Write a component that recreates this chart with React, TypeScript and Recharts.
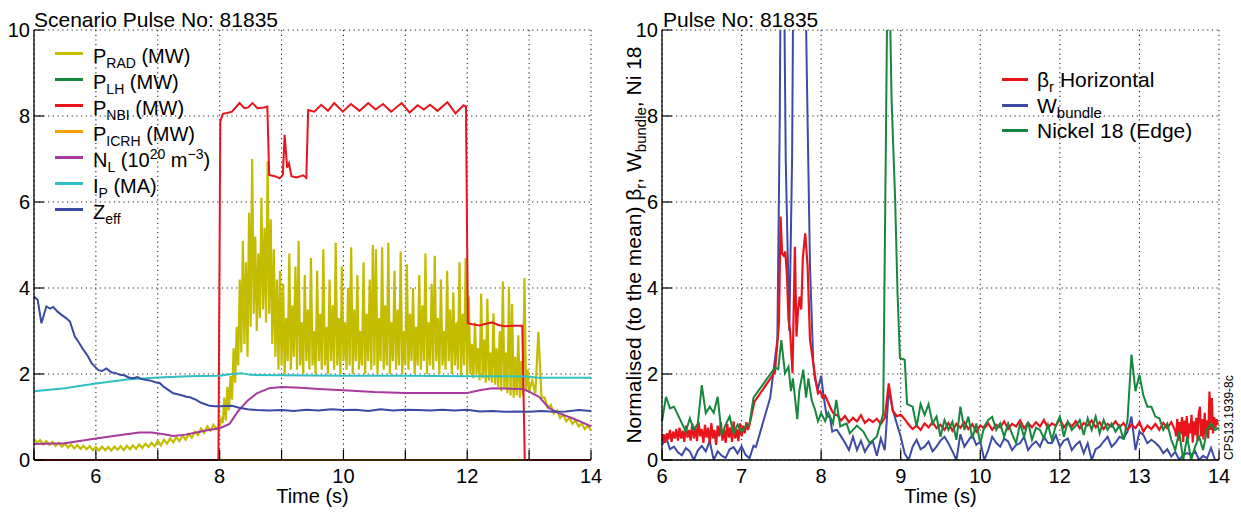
import React from 'react';
import { LineChart, Line, XAxis, YAxis, CartesianGrid } from 'recharts';

const FONT = '"Liberation Sans", Arial, Helvetica, sans-serif';

type Pt = { t: number; v: number };

// data helpers: explicit (t, v) pairs, or a uniformly sampled block starting at t0
const fromPairs = (rows: number[][]): Pt[] => rows.map(([t, v]) => ({ t, v }));
const fromSamples = (t0: number, dt: number, values: number[]): Pt[] =>
  values.map((v, i) => ({ t: Math.round((t0 + i * dt) * 1000) / 1000, v }));

const COLORS = {
  prad: '#c4bc00',
  lh: '#12893c',
  nbi: '#e8141c',
  icrh: '#f5a000',
  nl: '#a83a9e',
  ip: '#2fc0c6',
  zeff: '#3b4aa0',
  beta: '#e8141c',
  bundle: '#3d4ba3',
  nickel: '#17873d',
};

// ---------- axes ----------
const leftXTicks = [5, 6, 7, 8, 9, 10, 11, 12, 13, 14];
const leftXLabels = ['', '6', '', '8', '', '10', '', '12', '', '14'];
const rightXTicks = [6, 7, 8, 9, 10, 11, 12, 13];
const rightXLabels = ['6', '7', '8', '9', '10', '12', '13', '14'];
const yTicks = [0, 2, 4, 6, 8, 10];
const yLabels = ['0', '2', '4', '6', '8', '10'];

// ---------- left panel ----------
// P_RAD 5.00 - 7.95 s, every 0.05 s
const pradStart = [
  0.48, 0.40, 0.46, 0.36, 0.44, 0.35, 0.42, 0.33, 0.40, 0.31,
  0.38, 0.29, 0.36, 0.27, 0.35, 0.26, 0.33, 0.25, 0.32, 0.23,
  0.30, 0.22, 0.31, 0.23, 0.30, 0.22, 0.31, 0.24, 0.32, 0.23,
  0.33, 0.25, 0.34, 0.26, 0.36, 0.28, 0.38, 0.30, 0.40, 0.32,
  0.44, 0.34, 0.47, 0.38, 0.50, 0.41, 0.53, 0.44, 0.57, 0.47,
  0.60, 0.52, 0.66, 0.58, 0.73, 0.63, 0.78, 0.68, 0.82, 0.72,
];
// P_RAD 8.000 - 13.000 s, every 0.025 s
const pradFlat = [
  0.80, 0.95, 0.86, 1.45, 0.92, 1.70, 1.15, 1.95, 1.40, 2.60,
  1.80, 3.10, 2.20, 4.20, 2.50, 5.10, 2.70, 4.60, 2.40, 5.75,
  3.10, 7.00, 3.40, 5.20, 3.00, 4.80, 3.30, 6.10, 3.50, 5.40,
  3.20, 6.95, 3.40, 5.60, 2.70, 4.90, 2.40, 4.20, 2.10, 4.40,
  2.20, 4.10, 2.00, 3.30, 2.30, 4.80, 2.10, 3.60, 2.40, 4.50,
  2.10, 5.10, 2.20, 3.20, 2.00, 4.30, 2.30, 3.50, 2.10, 4.70,
  2.20, 3.00, 2.00, 4.40, 2.30, 3.40, 2.10, 4.90, 2.20, 3.10,
  2.00, 4.20, 2.30, 3.60, 2.10, 5.05, 2.20, 3.30, 2.00, 4.50,
  2.30, 3.20, 2.10, 4.00, 2.20, 4.95, 2.00, 3.50, 2.30, 4.30,
  2.10, 3.00, 2.20, 4.60, 2.00, 3.40, 2.30, 4.20, 2.10, 5.00,
  2.20, 4.90, 2.00, 3.30, 2.30, 4.95, 2.10, 3.60, 2.20, 5.05,
  2.00, 3.20, 2.30, 4.40, 2.10, 3.50, 2.20, 4.85, 2.00, 3.00,
  2.20, 4.55, 2.10, 3.40, 2.30, 4.00, 2.00, 3.10, 2.20, 4.30,
  2.10, 3.60, 2.30, 4.80, 2.00, 3.20, 2.20, 4.10, 2.10, 4.75,
  2.30, 3.30, 2.00, 4.20, 2.20, 3.00, 2.10, 4.40, 2.30, 3.50,
  2.00, 3.90, 2.20, 3.20, 2.10, 4.60, 1.95, 3.40, 2.20, 4.70,
  1.95, 3.80, 2.00, 2.70, 1.90, 3.20, 2.00, 2.60, 1.85, 3.87,
  1.90, 2.80, 1.80, 3.75, 1.85, 2.50, 1.80, 3.41, 1.75, 2.60,
  1.70, 3.00, 1.60, 4.15, 1.65, 2.50, 1.55, 4.03, 1.50, 3.63,
  1.45, 2.40, 1.50, 2.90, 1.45, 2.30, 1.50, 4.23, 1.60, 2.10,
  1.60,
];
// P_RAD 13.05 - 14.00 s, every 0.05 s
const pradTail = [
  1.85, 1.55, 2.98, 1.45, 1.45, 1.22, 1.28, 1.08, 1.15, 0.98,
  1.06, 0.90, 0.98, 0.84, 0.92, 0.78, 0.85, 0.72, 0.80, 0.68,
];

const nbiPoints = [
  [5.0, 0], [7.98, 0], [8.01, 7.87], [8.05, 8.05], [8.12, 8.07], [8.2, 8.1],
  [8.32, 8.3], [8.4, 8.18], [8.46, 8.2], [8.53, 8.3], [8.61, 8.18], [8.72, 8.2],
  [8.77, 8.22], [8.8, 6.63], [8.89, 6.6], [8.97, 6.55], [9.02, 6.63], [9.05, 7.56],
  [9.09, 6.8], [9.12, 6.9], [9.16, 6.6], [9.24, 6.57], [9.35, 6.62], [9.4, 6.56],
  [9.43, 8.14], [9.53, 8.1], [9.64, 8.26], [9.75, 8.12], [9.85, 8.3], [9.99, 8.1],
  [10.12, 8.28], [10.26, 8.12], [10.4, 8.3], [10.52, 8.15], [10.64, 8.28], [10.77, 8.1],
  [10.94, 8.3], [11.07, 8.08], [11.2, 8.25], [11.3, 8.15], [11.4, 8.26], [11.52, 8.12],
  [11.68, 8.32], [11.81, 8.06], [11.94, 8.25], [11.98, 8.22], [12.01, 3.18], [12.1, 3.15],
  [12.2, 3.13], [12.3, 3.17], [12.41, 3.2], [12.5, 3.14], [12.6, 3.11], [12.75, 3.12],
  [12.89, 3.12], [12.93, 0], [14.0, 0],
];
const lhPoints = [[5.0, 0], [14.0, 0]];
const icrhPoints = [[5.0, 0], [14.0, 0]];
const nlPoints = [
  [5.0, 0.37], [5.5, 0.39], [6.0, 0.5], [6.4, 0.58], [6.7, 0.64], [6.9, 0.64],
  [7.1, 0.6], [7.25, 0.56], [7.45, 0.59], [7.62, 0.64], [7.8, 0.69], [8.0, 0.74],
  [8.16, 0.84], [8.3, 1.14], [8.45, 1.38], [8.6, 1.55], [8.8, 1.67], [9.0, 1.7],
  [9.3, 1.68], [9.6, 1.65], [10.0, 1.62], [10.5, 1.58], [11.0, 1.56], [11.5, 1.56],
  [12.0, 1.56], [12.2, 1.62], [12.4, 1.67], [12.6, 1.66], [12.9, 1.65], [13.0, 1.59],
  [13.16, 1.47], [13.32, 1.21], [13.48, 1.09], [13.7, 0.97], [13.85, 0.88], [14.0, 0.78],
];
const ipPoints = [
  [5.0, 1.6], [5.5, 1.67], [6.0, 1.78], [6.5, 1.87], [7.0, 1.92], [7.5, 1.95],
  [8.0, 1.96], [8.2, 2.0], [8.35, 2.02], [8.5, 1.98], [9.0, 1.97], [10.0, 1.96],
  [11.0, 1.96], [12.0, 1.95], [12.5, 1.95], [13.0, 1.94], [13.15, 1.91], [14.0, 1.91],
];
const zeffPoints = [
  [5.0, 3.8], [5.06, 3.72], [5.12, 3.18], [5.2, 3.57], [5.26, 3.52], [5.31, 3.56],
  [5.38, 3.45], [5.45, 3.37], [5.52, 3.3], [5.58, 3.22], [5.66, 2.87], [5.73, 2.72],
  [5.8, 2.56], [5.87, 2.42], [5.93, 2.25], [6.04, 2.09], [6.1, 2.07], [6.17, 2.13],
  [6.25, 2.04], [6.32, 2.02], [6.39, 1.98], [6.46, 1.97], [6.53, 1.92], [6.6, 1.9],
  [6.67, 1.93], [6.74, 1.88], [6.82, 1.86], [6.9, 1.84], [6.96, 1.81], [7.03, 1.79],
  [7.1, 1.7], [7.18, 1.62], [7.25, 1.55], [7.32, 1.53], [7.4, 1.5], [7.46, 1.47],
  [7.52, 1.46], [7.62, 1.4], [7.7, 1.33], [7.78, 1.29], [7.84, 1.26], [7.92, 1.25],
  [8.0, 1.25], [8.2, 1.26], [8.3, 1.22], [8.45, 1.18], [8.6, 1.16], [8.8, 1.15],
  [9.0, 1.16], [9.2, 1.14], [9.4, 1.17], [9.6, 1.15], [9.8, 1.18], [10.0, 1.16],
  [10.2, 1.17], [10.4, 1.14], [10.6, 1.18], [10.8, 1.15], [11.0, 1.17], [11.2, 1.16],
  [11.4, 1.15], [11.6, 1.17], [11.8, 1.15], [12.0, 1.17], [12.2, 1.13], [12.4, 1.14],
  [12.6, 1.12], [12.8, 1.13], [13.0, 1.12], [13.2, 1.14], [13.4, 1.12], [13.6, 1.13],
  [13.8, 1.16], [14.0, 1.14],
];

// ---------- right panel (x in axis positions 6..13) ----------
// beta_r 6.00 - 7.10, every 0.02
const betaNoise = [
  0.45, 0.60, 0.40, 0.62, 0.48, 0.70, 0.42, 0.66, 0.50, 0.72,
  0.45, 0.75, 0.50, 0.68, 0.42, 0.80, 0.52, 0.70, 0.45, 0.85,
  0.50, 0.78, 0.44, 0.88, 0.55, 0.72, 0.40, 0.82, 0.52, 0.75,
  0.38, 0.86, 0.50, 0.70, 0.35, 0.80, 0.55, 0.88, 0.45, 0.72,
  0.40, 0.84, 0.52, 0.76, 0.42, 0.90, 0.50, 0.72, 0.44, 0.85,
  0.55, 0.80, 0.62, 0.88, 0.70, 0.82,
];
const betaCrash = [
  [7.16, 1.35], [7.42, 2.05], [7.47, 3.2], [7.49, 5.66], [7.51, 4.8], [7.53, 4.75],
  [7.55, 4.85], [7.57, 4.3], [7.59, 3.26], [7.61, 3.0], [7.64, 2.02], [7.67, 4.96],
  [7.69, 2.87], [7.71, 3.5], [7.73, 3.8], [7.75, 3.5], [7.77, 4.7], [7.8, 5.27],
  [7.83, 4.5], [7.86, 2.8], [7.89, 2.4], [7.92, 2.0], [7.94, 1.75], [7.96, 1.55],
  [7.99, 1.6], [8.02, 1.45], [8.05, 1.5], [8.09, 1.33], [8.12, 1.2], [8.15, 1.1],
  [8.18, 1.05],
];
// beta_r 8.20 - 12.45, every 0.05
const betaFlat = [
  1.05, 0.92, 1.02, 0.88, 0.98, 0.90, 1.04, 0.86, 0.95, 0.88,
  0.96, 0.84, 0.98, 1.78, 1.15, 1.02, 1.05, 0.95, 0.82, 0.72,
  0.80, 0.70, 0.85, 0.76, 0.88, 0.74, 0.82, 0.70, 0.86, 0.68,
  0.84, 0.75, 0.88, 0.72, 0.83, 0.66, 0.80, 0.74, 0.85, 0.70,
  0.82, 0.76, 0.90, 0.72, 0.84, 0.78, 0.92, 0.74, 0.86, 0.76,
  0.88, 0.78, 0.93, 0.75, 0.85, 0.80, 0.95, 0.76, 0.88, 0.78,
  0.90, 0.74, 0.86, 0.80, 0.92, 0.76, 0.88, 0.72, 0.84, 0.78,
  0.90, 0.76, 0.86, 0.70, 0.82, 0.74, 0.88, 0.66, 0.80, 0.72,
  0.84, 0.70, 0.86, 0.74, 0.88, 0.68,
];
// beta_r 12.46 - 12.985, every 0.015
const betaEnd = [
  0.55, 0.95, 0.45, 0.88, 0.60, 1.00, 0.42, 0.92, 0.55, 1.02,
  0.48, 0.85, 0.62, 1.05, 0.40, 0.90, 0.58, 0.98, 0.45, 1.08,
  1.24, 0.55, 0.95, 0.48, 1.10, 0.60, 0.92, 0.50, 1.59, 0.70,
  1.44, 0.62, 1.00, 0.75, 0.95, 0.82,
];

// W_bundle 6.00 - 7.15, every 0.05
const bundleStart = [
  0.35, 0.54, 0.25, 0.31, 0.18, 0.11, 0.28, 0.20, 0.00, 0.22,
  0.33, 0.20, 0.44, 0.00, 0.20, 0.10, 0.05, 0.25, 0.30, 0.15,
  0.32, 0.12, 0.04, 0.33,
];
const bundleCrash = [
  [7.18, 0.3], [7.36, 1.45], [7.45, 2.8], [7.48, 8], [7.5, 14], [7.52, 14],
  [7.555, 7], [7.6, 3.0], [7.635, 7], [7.66, 14], [7.78, 14], [7.82, 9],
  [7.86, 4.5], [7.9, 2.3], [7.92, 1.9], [7.96, 1.65], [8.0, 1.96], [8.03, 1.5],
  [8.07, 1.0], [8.11, 1.01], [8.14, 0.66], [8.18, 0.7],
];
// W_bundle 8.20 - 13.00, every 0.05
const bundleFlat = [
  0.70, 0.55, 0.40, 0.23, 0.54, 0.23, 0.45, 0.19, 0.35, 0.43,
  0.10, 0.50, 0.23, 1.63, 1.16, 0.85, 0.54, 0.15, 0.00, 0.31,
  0.47, 0.25, 0.31, 0.43, 0.20, 0.31, 0.45, 0.54, 0.39, 0.20,
  0.00, 0.60, 0.31, 0.45, 0.58, 0.35, 0.43, 0.00, 0.23, 0.54,
  0.40, 0.31, 0.50, 0.43, 0.23, 0.35, 0.39, 0.54, 0.23, 0.35,
  0.43, 0.31, 0.54, 0.40, 0.39, 0.58, 0.31, 0.45, 0.50, 0.23,
  0.35, 0.43, 0.16, 0.39, 0.00, 0.25, 0.31, 0.43, 0.54, 0.31,
  0.40, 0.54, 0.50, 0.66, 1.01, 0.23, 0.66, 0.58, 0.39, 0.47,
  0.40, 0.31, 0.16, 0.25, 0.08, 0.19, 0.00, 0.12, 0.16, 0.12,
  0.20, 0.00, 0.10, 0.04, 0.28, 0.00, 0.00,
];

// Nickel 18 6.00 - 7.10, every 0.05
const nickelStart = [
  0.90, 1.47, 1.20, 1.24, 1.05, 0.85, 0.66, 0.97, 0.70, 0.85,
  1.74, 1.09, 1.24, 1.10, 1.47, 0.58, 0.82, 1.01, 0.62, 0.82,
  0.66, 0.78, 0.85,
];
const nickelCrash = [
  [7.15, 1.45], [7.42, 2.15], [7.46, 2.11], [7.5, 2.79], [7.545, 2.02], [7.59, 2.17],
  [7.62, 1.6], [7.645, 1.9], [7.7, 0.95], [7.725, 1.6], [7.775, 2.1], [7.81, 1.45],
  [7.84, 1.9], [7.88, 1.4], [7.92, 1.19], [7.96, 0.9], [8.0, 1.09], [8.05, 0.9],
  [8.09, 1.1], [8.15, 0.85], [8.19, 1.4], [8.24, 0.78], [8.32, 0.85], [8.36, 0.62],
  [8.45, 0.8], [8.53, 0.66], [8.61, 0.39], [8.7, 0.55], [8.78, 1.08], [8.83, 10.5],
  [8.865, 10.5], [8.885, 8.4], [8.93, 6.05], [8.96, 3.88], [8.99, 2.37], [9.05, 2.33],
  [9.08, 1.3],
];
// Nickel 18 9.15 - 13.00, every 0.05
const nickelFlat = [
  1.24, 0.78, 1.30, 1.05, 1.30, 0.85, 1.01, 0.54, 0.93, 0.70,
  0.89, 0.47, 1.24, 0.70, 1.01, 0.50, 0.85, 0.39, 0.78, 0.93,
  1.00, 0.70, 0.85, 0.54, 0.85, 0.60, 0.39, 0.85, 0.54, 0.89,
  0.47, 0.75, 0.70, 0.50, 0.82, 0.47, 0.80, 1.01, 0.54, 0.89,
  0.70, 0.80, 0.93, 0.58, 0.97, 0.70, 1.01, 0.62, 0.93, 0.70,
  0.85, 0.66, 0.80, 0.47, 0.93, 2.45, 1.60, 1.98, 1.50, 1.24,
  1.24, 1.01, 0.97, 0.70, 0.85, 0.47, 0.23, 0.66, 0.00, 0.54,
  0.00, 0.31, 0.54, 0.23, 0.70, 0.85, 0.70, 0.75,
];

const pradData = [
  ...fromSamples(5.0, 0.05, pradStart),
  ...fromSamples(8.0, 0.025, pradFlat),
  ...fromSamples(13.05, 0.05, pradTail),
];
const betaData = [
  ...fromSamples(6.0, 0.02, betaNoise),
  ...fromPairs(betaCrash),
  ...fromSamples(8.2, 0.05, betaFlat),
  ...fromSamples(12.46, 0.015, betaEnd),
];
const bundleData = [
  ...fromSamples(6.0, 0.05, bundleStart),
  ...fromPairs(bundleCrash),
  ...fromSamples(8.2, 0.05, bundleFlat),
];
const nickelData = [
  ...fromSamples(6.0, 0.05, nickelStart),
  ...fromPairs(nickelCrash),
  ...fromSamples(9.15, 0.05, nickelFlat),
];

// ---------- ticks: drawn inward, labels outside ----------
const makeBottomTick = (ticks: number[], labels: string[]) => (props: any) => {
  const { x, y, payload } = props;
  const label = labels[ticks.indexOf(payload.value)];
  return (
    <g>
      <line x1={x} y1={y} x2={x} y2={y - 10} stroke="#000" strokeWidth={1.2} />
      {label ? (
        <text x={x} y={y + 23} textAnchor="middle" fontSize={20} fontFamily={FONT} fill="#000">
          {label}
        </text>
      ) : null}
    </g>
  );
};

const makeLeftTick = (ticks: number[], labels: string[]) => (props: any) => {
  const { x, y, payload } = props;
  const label = labels[ticks.indexOf(payload.value)];
  return (
    <g>
      <line x1={x} y1={y} x2={x + 10} y2={y} stroke="#000" strokeWidth={1.2} />
      <text x={x - 4} y={y + 7} textAnchor="end" fontSize={20} fontFamily={FONT} fill="#000">
        {label}
      </text>
    </g>
  );
};

const Sub = ({ children, size = 14 }: { children: React.ReactNode; size?: number }) => (
  <span style={{ fontSize: size, position: 'relative', top: 5 }}>{children}</span>
);
const Sup = ({ children }: { children: React.ReactNode }) => (
  <span style={{ fontSize: 14, position: 'relative', top: -8 }}>{children}</span>
);

const leftLegend = [
  { color: COLORS.prad, label: <>P<Sub>RAD</Sub> (MW)</> },
  { color: COLORS.lh, label: <>P<Sub>LH</Sub> (MW)</> },
  { color: COLORS.nbi, label: <>P<Sub>NBI</Sub> (MW)</> },
  { color: COLORS.icrh, label: <>P<Sub>ICRH</Sub> (MW)</> },
  { color: COLORS.nl, label: <>N<Sub>L</Sub> (10<Sup>20</Sup> m<Sup>−3</Sup>)</> },
  { color: COLORS.ip, label: <>I<Sub>P</Sub> (MA)</> },
  { color: COLORS.zeff, label: <>Z<Sub>eff</Sub></> },
];

const rightLegend = [
  { color: COLORS.beta, label: <>β<Sub size={15}>r</Sub> Horizontal</> },
  { color: COLORS.bundle, label: <>W<Sub size={15}>bundle</Sub></> },
  { color: COLORS.nickel, label: <>Nickel 18 (Edge)</> },
];

function LegendBlock({ items, left, top, rowH, fontSize, lineH, swatchW, gap }: any) {
  return (
    <div style={{ position: 'absolute', left, top }}>
      {items.map((it: any, i: number) => (
        <div key={i} style={{ position: 'relative', height: rowH, whiteSpace: 'nowrap' }}>
          <div style={{ position: 'absolute', left: 0, top: rowH / 2 - 1.5, width: swatchW, height: 3, background: it.color }} />
          <div style={{ position: 'absolute', left: swatchW + gap, top: 0, fontSize, lineHeight: `${lineH}px` }}>{it.label}</div>
        </div>
      ))}
    </div>
  );
}

function RightYLabel() {
  const cx = 41;
  const cy = 245;
  return (
    <text x={cx} y={cy} transform={`rotate(-90 ${cx} ${cy})`} textAnchor="middle" fontSize={21} fontFamily={FONT} fill="#000">
      Normalised (to the mean) β<tspan fontSize={15} dy={5}>r</tspan>
      <tspan dy={-5}>, W</tspan>
      <tspan fontSize={15} dy={5}>bundle</tspan>
      <tspan dy={-5}>, Ni 18</tspan>
    </text>
  );
}

const axisStroke = { stroke: '#000', strokeWidth: 1.3 };

export default function App() {
  return (
    <div style={{ position: 'absolute', left: 0, top: 0, width: 1241, height: 515, background: '#fff', fontFamily: FONT, color: '#000' }}>
      {/* Scenario panel */}
      <div style={{ position: 'absolute', left: 0, top: 0 }}>
        <LineChart width={620} height={515} margin={{ top: 30, right: 29, bottom: 0, left: 4 }}>
          <CartesianGrid stroke="#222" strokeDasharray="1.2 3.5" strokeWidth={1.1} />
          <XAxis
            dataKey="t"
            type="number"
            domain={[5, 14]}
            ticks={leftXTicks}
            interval={0}
            height={55}
            tickSize={0}
            tickMargin={0}
            tickLine={false}
            axisLine={axisStroke}
            tick={makeBottomTick(leftXTicks, leftXLabels)}
            label={{ value: 'Time (s)', position: 'insideBottom', offset: 12, fontSize: 20, fill: '#000', fontFamily: FONT }}
          />
          <XAxis xAxisId="top" orientation="top" type="number" domain={[5, 14]} height={0} tick={false} tickLine={false} axisLine={axisStroke} />
          <YAxis
            type="number"
            domain={[0, 10]}
            ticks={yTicks}
            interval={0}
            width={30}
            tickSize={0}
            tickMargin={0}
            tickLine={false}
            axisLine={axisStroke}
            tick={makeLeftTick(yTicks, yLabels)}
          />
          <YAxis yAxisId="right" orientation="right" type="number" domain={[0, 10]} width={0} tick={false} tickLine={false} axisLine={axisStroke} />
          <Line data={pradData} dataKey="v" stroke={COLORS.prad} strokeWidth={2.2} strokeLinejoin="miter" dot={false} activeDot={false} isAnimationActive={false} />
          <Line data={fromPairs(lhPoints)} dataKey="v" stroke={COLORS.lh} strokeWidth={2} dot={false} activeDot={false} isAnimationActive={false} />
          <Line data={fromPairs(icrhPoints)} dataKey="v" stroke={COLORS.icrh} strokeWidth={2} dot={false} activeDot={false} isAnimationActive={false} />
          <Line data={fromPairs(nbiPoints)} dataKey="v" stroke={COLORS.nbi} strokeWidth={2} dot={false} activeDot={false} isAnimationActive={false} />
          <Line data={fromPairs(nlPoints)} dataKey="v" stroke={COLORS.nl} strokeWidth={2} dot={false} activeDot={false} isAnimationActive={false} />
          <Line data={fromPairs(ipPoints)} dataKey="v" stroke={COLORS.ip} strokeWidth={2} dot={false} activeDot={false} isAnimationActive={false} />
          <Line data={fromPairs(zeffPoints)} dataKey="v" stroke={COLORS.zeff} strokeWidth={2} dot={false} activeDot={false} isAnimationActive={false} />
        </LineChart>
      </div>

      {/* Normalised signals panel */}
      <div style={{ position: 'absolute', left: 600, top: 0 }}>
        <LineChart width={641} height={515} margin={{ top: 30, right: 22, bottom: 0, left: 2 }}>
          <CartesianGrid stroke="#222" strokeDasharray="1.2 3.5" strokeWidth={1.1} />
          <XAxis
            dataKey="t"
            type="number"
            domain={[6, 13]}
            ticks={rightXTicks}
            interval={0}
            height={55}
            tickSize={0}
            tickMargin={0}
            tickLine={false}
            axisLine={axisStroke}
            tick={makeBottomTick(rightXTicks, rightXLabels)}
            label={{ value: 'Time (s)', position: 'insideBottom', offset: 12, fontSize: 20, fill: '#000', fontFamily: FONT }}
          />
          <XAxis xAxisId="top" orientation="top" type="number" domain={[6, 13]} height={0} tick={false} tickLine={false} axisLine={axisStroke} />
          <YAxis
            type="number"
            domain={[0, 10]}
            allowDataOverflow
            ticks={yTicks}
            interval={0}
            width={60}
            tickSize={0}
            tickMargin={0}
            tickLine={false}
            axisLine={axisStroke}
            tick={makeLeftTick(yTicks, yLabels)}
            label={<RightYLabel />}
          />
          <YAxis yAxisId="right" orientation="right" type="number" domain={[0, 10]} width={0} tick={false} tickLine={false} axisLine={{ stroke: '#555', strokeWidth: 2 }} />
          <Line data={bundleData} dataKey="v" stroke={COLORS.bundle} strokeWidth={2} dot={false} activeDot={false} isAnimationActive={false} />
          <Line data={betaData} dataKey="v" stroke={COLORS.beta} strokeWidth={2.2} dot={false} activeDot={false} isAnimationActive={false} />
          <Line data={nickelData} dataKey="v" stroke={COLORS.nickel} strokeWidth={2} dot={false} activeDot={false} isAnimationActive={false} />
        </LineChart>
      </div>

      {/* titles */}
      <div style={{ position: 'absolute', left: 34, top: 9, fontSize: 21, lineHeight: '21px', whiteSpace: 'nowrap' }}>
        Scenario Pulse No: 81835
      </div>
      <div style={{ position: 'absolute', left: 663, top: 9, fontSize: 21, lineHeight: '21px', whiteSpace: 'nowrap' }}>
        Pulse No: 81835
      </div>

      <LegendBlock items={leftLegend} left={55} top={40} rowH={26} fontSize={20} lineH={32} swatchW={28} gap={10} />
      <LegendBlock items={rightLegend} left={1002} top={67} rowH={25.5} fontSize={21} lineH={26} swatchW={26} gap={9} />

      <div
        style={{
          position: 'absolute',
          left: 1223,
          top: 460,
          fontSize: 12,
          lineHeight: '12px',
          whiteSpace: 'nowrap',
          transform: 'rotate(-90deg)',
          transformOrigin: 'left top',
        }}
      >
        CPS13.1939-8c
      </div>
    </div>
  );
}
